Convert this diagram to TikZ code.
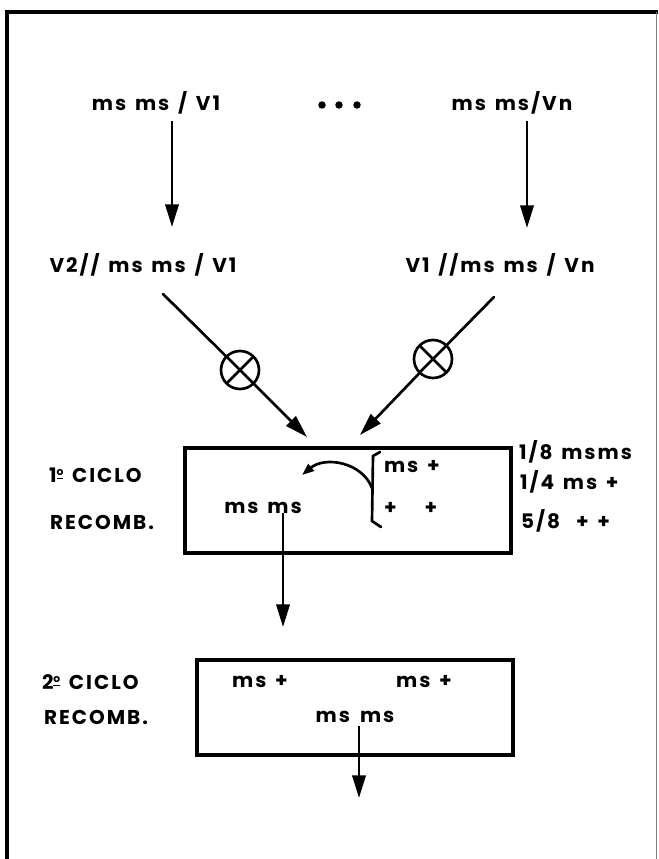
\documentclass[tikz,border=0pt]{standalone}
\usepackage{fontspec}
\setmainfont{Poppins}
\newfontfamily\labfont{Poppins}[LetterSpace=10,WordSpace=1.4]
\usetikzlibrary{arrows.meta}
\newcommand{\ordo}{\raisebox{0.55ex}{\fontsize{8}{8}\selectfont\underline{o}}}
\begin{document}
\begin{tikzpicture}[x=0.75pt,y=-0.75pt,
  lbl/.style={inner sep=0pt, outer sep=0pt, font=\labfont\fontsize{15}{17}\selectfont\bfseries, anchor=base},
  lblw/.style={lbl, anchor=base west},
  arr/.style={line width=2pt, -{Triangle[length=17pt,width=10pt]}},
  carr/.style={line width=2pt, -{Triangle[length=9pt,width=6.5pt]}},
  conn/.style={line width=2pt},
  boxst/.style={draw, line width=3pt, inner sep=0pt, outer sep=0pt},
  oxst/.style={draw, circle, line width=2pt, minimum size=28.5pt, inner sep=0pt, outer sep=0pt}
]
\useasboundingbox (0,0) rectangle (659,859);
% frame
\draw[line width=2.4pt] (7,859) -- (7,12) -- (658,12);
\draw[line width=0.6pt, black!50] (656,12) -- (656,859);

% top row
\node[lbl] (t1) at (156,111) {ms ms / V1};
\node[lbl] (tn) at (512,111) {ms ms/Vn};
\fill (322,105) circle[radius=2.8pt] (339,105) circle[radius=2.8pt] (357,105) circle[radius=2.8pt];

% second row
\node[lbl] (v2) at (143,272) {V2// ms ms / V1};
\node[lbl] (vn) at (500,272) {V1 //ms ms / Vn};

\coordinate (a1e) at (172,227);
\coordinate (a2e) at (527,228);
\draw[arr] ([yshift=-5pt]t1.south -| a1e) -- (a1e);
\draw[arr] ([yshift=-5pt]tn.south -| a2e) -- (a2e);

% crossings
\node[oxst] (ox1) at (240,370) {};
\node[oxst] (ox2) at (433,359) {};
\draw[conn] (ox1.45) -- (ox1.225) (ox1.135) -- (ox1.315);
\draw[conn] (ox2.45) -- (ox2.225) (ox2.135) -- (ox2.315);
\coordinate (s1) at (163,294);
\coordinate (s2) at (494,297);
\coordinate (e1) at (307,437);
\coordinate (e2) at (360,435);
\draw[conn, line cap=round] (s1) -- (ox1);
\draw[conn, line cap=round] (s2) -- (ox2);
\draw[arr] (ox1) -- (e1);
\draw[arr] (ox2) -- (e2);

% first cycle
\node[lblw] (c1a) at (49,482) {1\ordo{} CICLO};
\node[lblw] (c1b) at (50,529) {RECOMB.};
\node[boxst, minimum width=244.5pt, minimum height=78.75pt] (box1) at (348,500.5) {};
\node[lbl] (mm1) at (263,513) {ms ms};
\node[lblw] (mp1) at (384,472) {ms +};
\node[lblw] (pp1) at (384,514) {+\hspace{1.4em}+};
\draw[conn, line join=round, line cap=round] (380,452) -- (373,456) -- (372,521) -- (381,527);
\coordinate (cb) at (372,488);
\coordinate (ce) at (302,475);
\draw[carr] (cb) .. controls (362,462) and (325,456) .. (ce);
\node[lblw] (r1) at (519,459) {1/8 msms};
\node[lblw] (r2) at (520,489) {1/4 ms +};
\node[lblw] (r3) at (521,528) {5/8\hspace{0.8em}+ +};
\coordinate (d1e) at (283,627);
\draw[arr] (mm1.base -| d1e) -- (d1e);

% second cycle
\node[lblw] (c2a) at (42,689) {2\ordo{} CICLO};
\node[lblw] (c2b) at (44,724) {RECOMB.};
\node[boxst, minimum width=237pt, minimum height=71.25pt] (box2) at (355,707.5) {};
\node[lbl] (mp2) at (260,687) {ms +};
\node[lbl] (mp3) at (424,687) {ms +};
\node[lbl] (mm2) at (355,722) {ms\hspace{0.5em}ms};
\coordinate (d2e) at (359,798);
\draw[arr] ([yshift=-3pt]mm2.base -| d2e) -- (d2e);
\end{tikzpicture}
\end{document}
